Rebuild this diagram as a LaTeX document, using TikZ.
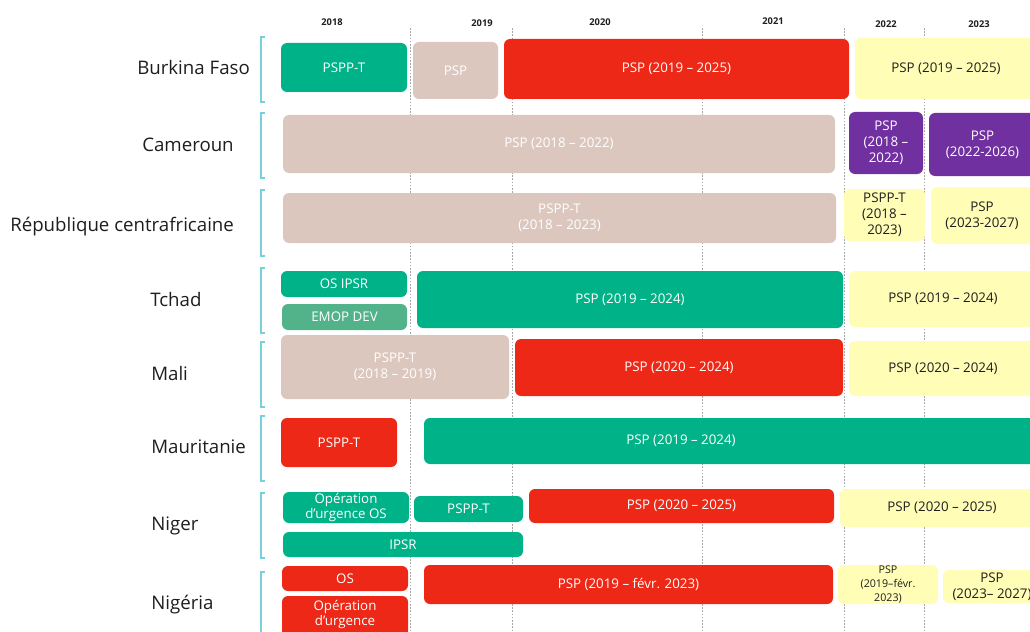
\documentclass[tikz,border=0pt]{standalone}
\usepackage{fontspec}
\setmainfont{Open Sans}

\definecolor{grn}{RGB}{0,178,135}
\definecolor{rd}{RGB}{238,40,22}
\definecolor{bei}{RGB}{220,199,190}
\definecolor{yel}{RGB}{255,253,182}
\definecolor{pur}{RGB}{112,48,160}
\definecolor{emo}{RGB}{82,178,138}
\definecolor{brk}{RGB}{120,208,216}
\definecolor{txt}{RGB}{30,30,30}

\tikzset{
  bar/.style={rounded corners=4.5pt, inner sep=0pt, align=center, text=white,
    font=\fontsize{10}{12}\selectfont},
  span/.style n args={4}{at={({(#1+#3)/2},{(#2+#4)/2})},
    minimum width={(#3-#1)*0.75pt}, minimum height={(#4-#2)*0.75pt}},
  grnbox/.style={bar, fill=grn},
  redbox/.style={bar, fill=rd},
  beibox/.style={bar, fill=bei},
  purbox/.style={bar, fill=pur},
  emobox/.style={bar, fill=emo},
  yelbox/.style={bar, fill=yel, text=txt},
  country/.style={anchor=base west, inner sep=0pt, text=txt, font=\fontsize{14}{16}\selectfont},
  yearlbl/.style={text=txt, font=\bfseries\fontsize{7}{8}\selectfont},
  yrline/.style={gray!70, line width=0.4pt, dash pattern=on 1.2pt off 1.2pt},
  bracket/.style={brk, line width=0.9pt}
}

\begin{document}
\begin{tikzpicture}[x=0.75pt, y=-0.75pt]
  \useasboundingbox (0,0) rectangle (1030,631);
  \clip (0,0) rectangle (1030,631);

  % years and their dashed limits
  \node[yearlbl] (y2018) at (332,22) {2018};
  \node[yearlbl] (y2019) at (482,23) {2019};
  \node[yearlbl] (y2020) at (600,22) {2020};
  \node[yearlbl] (y2021) at (773,21) {2021};
  \node[yearlbl] (y2022) at (886,24) {2022};
  \node[yearlbl] (y2023) at (979,24) {2023};
  \foreach \xx in {410,512,702,844,924}
    \draw[yrline] (\xx,28) -- (\xx,631);

  % countries
  \node[country] (bfa) at (137,75) {Burkina Faso};
  \node[country] (cmr) at (142,151.5) {Cameroun};
  \node[country] (rca) at (10,231) {République centrafricaine};
  \node[country] (tcd) at (150,306) {Tchad};
  \node[country] (mli) at (151,380) {Mali};
  \node[country] (mrt) at (151,453) {Mauritanie};
  \node[country] (ner) at (151,530) {Niger};
  \node[country] (nga) at (151,609) {Nigéria};

  \foreach \ya/\yb in {37/102,113/178,190/256,268/333,342/407,416/481,493/558,572/660}
    \draw[bracket] (265,\ya) -- (261,\ya) -- (261,\yb) -- (265,\yb);

  % Burkina Faso
  \node[grnbox, span={281}{43}{407}{92}] (bf1) {PSPP-T};
  \node[beibox, span={413}{42}{498}{99}] (bf2) {PSP};
  \node[redbox, span={504}{39}{849}{99}] (bf3) {PSP (2019 – 2025)};
  \node[yelbox, span={855}{38}{1037}{99}] (bf4) {PSP (2019 – 2025)};

  % Cameroun
  \node[beibox, span={283}{115}{835}{173}] (cm1) {PSP (2018 – 2022)};
  \node[purbox, span={849}{112}{923}{174}] (cm2) {PSP\\(2018 –\\2022)};
  \node[purbox, span={929}{113}{1036}{176}] (cm3) {PSP\\(2022-2026)};

  % Republique centrafricaine
  \node[beibox, span={283}{193}{836}{243}] (rc1) {PSPP-T\\(2018 – 2023)};
  \node[yelbox, span={844}{189}{925}{241}] (rc2) {PSPP-T\\(2018 –\\2023)};
  \node[yelbox, span={931}{187}{1033}{244}] (rc3) {PSP\\(2023-2027)};

  % Tchad
  \node[grnbox, span={281}{271}{407}{297}] (td1) {OS IPSR};
  \node[emobox, span={282}{304}{407}{330}] (td2) {EMOP DEV};
  \node[grnbox, span={417}{271}{843}{328}] (td3) {PSP (2019 – 2024)};
  \node[yelbox, span={849}{271}{1037}{327}] (td4) {PSP (2019 – 2024)};

  % Mali
  \node[beibox, span={281}{335}{509}{399}] (ml1) {PSPP-T\\(2018 – 2019)};
  \node[redbox, span={515}{339}{843}{396}] (ml2) {PSP (2020 – 2024)};
  \node[yelbox, span={849}{341}{1037}{396}] (ml3) {PSP (2020 – 2024)};

  % Mauritanie
  \node[redbox, span={281}{418}{397}{467}] (mr1) {PSPP-T};
  \node[grnbox, span={424}{418}{1060}{464}] (mr2) {};
  \node[bar] (mr2t) at (681,441) {PSP (2019 – 2024)};

  % Niger
  \node[grnbox, span={283}{492}{409}{523}, font=\fontsize{10}{11}\selectfont] (ng1) {Opération\\d’urgence OS};
  \node[grnbox, span={414}{496}{523}{522}] (ng2) {PSPP-T};
  \node[redbox, span={529}{489}{834}{523}] (ng3) {PSP (2020 – 2025)};
  \node[yelbox, span={840}{489}{1044}{527}] (ng4) {PSP (2020 – 2025)};
  \node[grnbox, span={283}{532}{523}{557}] (ng5) {IPSR};

  % Nigeria
  \node[redbox, span={282}{566}{408}{591}] (na1) {OS};
  \node[redbox, span={282}{596}{408}{660}] (na2) {};
  \node[bar, font=\fontsize{10}{11}\selectfont] (na2t) at (345,614.5) {Opération\\d’urgence};
  \node[redbox, span={424}{565}{833}{604}] (na3) {PSP (2019 – févr. 2023)};
  \node[yelbox, span={838}{565}{938}{604}, font=\fontsize{8}{10.5}\selectfont] (na4) {PSP\\(2019–févr.\\2023)};
  \node[yelbox, span={943}{570}{1041}{603}] (na5) {PSP\\(2023– 2027)};
\end{tikzpicture}
\end{document}
